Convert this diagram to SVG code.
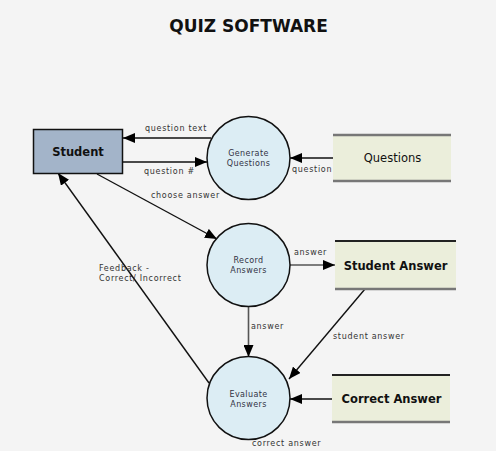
<svg xmlns="http://www.w3.org/2000/svg" width="496" height="451" viewBox="0 0 496 451">
<style>
.lbl{font-family:"DejaVu Sans",Verdana,sans-serif;font-size:8px;letter-spacing:0.7px;fill:#333}
.proc{fill:#dcedf4;stroke:#111;stroke-width:1.5}
.ptxt{font-family:"DejaVu Sans",Verdana,sans-serif;font-size:8px;letter-spacing:0.4px;fill:#334;text-anchor:middle}
.store{fill:#ebeedb}
.sline{stroke:#777;stroke-width:2.5}
.sdark{stroke:#222;stroke-width:2}
.stxt{font-family:"DejaVu Sans",Verdana,sans-serif;font-size:11.5px;fill:#111;text-anchor:middle}
.flow{stroke:#111;stroke-width:1.4;fill:none;marker-end:url(#ah)}
.gflow{stroke:#555;stroke-width:1.6;fill:none;marker-end:url(#ah)}
</style>
<defs>
<marker id="ah" viewBox="0 0 12 10" refX="12" refY="5" markerWidth="12" markerHeight="10" markerUnits="userSpaceOnUse" orient="auto">
<path d="M0,0 L12,5 L0,10 Z" fill="#000"/>
</marker>
</defs>
<rect width="496" height="451" fill="#f4f4f4"/>
<text x="248.5" y="32" text-anchor="middle" font-family="DejaVu Sans,Verdana,sans-serif" font-weight="bold" font-size="17" fill="#111">QUIZ SOFTWARE</text>

<g id="connectors">
<line class="flow" x1="211" y1="138" x2="123" y2="138"/>
<line class="flow" x1="123" y1="162" x2="207" y2="162"/>
<line class="flow" x1="333" y1="158" x2="290" y2="158"/>
<line class="flow" x1="97" y1="174" x2="217" y2="239"/>
<line class="gflow" x1="290" y1="265" x2="335" y2="265"/>
<line class="gflow" x1="248.5" y1="306.5" x2="248.5" y2="357"/>
<line class="flow" x1="365" y1="289" x2="289" y2="379"/>
<line class="flow" x1="332" y1="399" x2="290" y2="399"/>
<line class="flow" x1="209" y1="383" x2="58" y2="173"/>
<text class="lbl" x="145" y="131">question text</text>
<text class="lbl" x="144" y="174">question #</text>
<text class="lbl" x="292" y="172">question</text>
<text class="lbl" x="151" y="198">choose answer</text>
<text class="lbl" x="294" y="255">answer</text>
<text class="lbl" x="251" y="329">answer</text>
<text class="lbl" x="333" y="339">student answer</text>
<text class="lbl" x="252" y="446">correct answer</text>
<text class="lbl" x="99" y="271">Feedback -</text>
<text class="lbl" x="99" y="281">Correct/ Incorrect</text>
</g>

<g id="student">
<rect x="33.5" y="129.5" width="89" height="44" fill="#a3b4c9" stroke="#111" stroke-width="1.5"/>
<text x="78" y="156" text-anchor="middle" font-family="DejaVu Sans,Verdana,sans-serif" font-weight="bold" font-size="11.5" fill="#111">Student</text>
</g>

<g id="generate-questions">
<circle class="proc" cx="248.5" cy="158" r="41.5"/>
<text class="ptxt" x="248.5" y="156">Generate</text>
<text class="ptxt" x="248.5" y="166">Questions</text>
</g>

<g id="record-answers">
<circle class="proc" cx="248.5" cy="265" r="41.5"/>
<text class="ptxt" x="248.5" y="263">Record</text>
<text class="ptxt" x="248.5" y="273">Answers</text>
</g>

<g id="evaluate-answers">
<circle class="proc" cx="248.5" cy="398" r="41.5"/>
<text class="ptxt" x="248.5" y="397">Evaluate</text>
<text class="ptxt" x="248.5" y="407">Answers</text>
</g>

<g id="questions">
<rect class="store" x="333" y="135" width="118" height="46"/>
<line class="sline" x1="333" y1="135" x2="451" y2="135"/>
<line class="sline" x1="333" y1="181" x2="451" y2="181"/>
<text class="stxt" x="392.5" y="162" font-size="12.5">Questions</text>
</g>

<g id="student-answer">
<rect class="store" x="335" y="241" width="121" height="48"/>
<line class="sdark" x1="335" y1="241" x2="456" y2="241"/>
<line class="sline" x1="335" y1="289" x2="456" y2="289"/>
<text class="stxt" x="395.5" y="269.5" font-weight="bold">Student Answer</text>
</g>

<g id="correct-answer">
<rect class="store" x="332" y="375" width="118" height="47"/>
<line class="sdark" x1="332" y1="375" x2="450" y2="375"/>
<line class="sline" x1="332" y1="422" x2="450" y2="422"/>
<text class="stxt" x="391.5" y="403" font-weight="bold">Correct Answer</text>
</g>
</svg>
